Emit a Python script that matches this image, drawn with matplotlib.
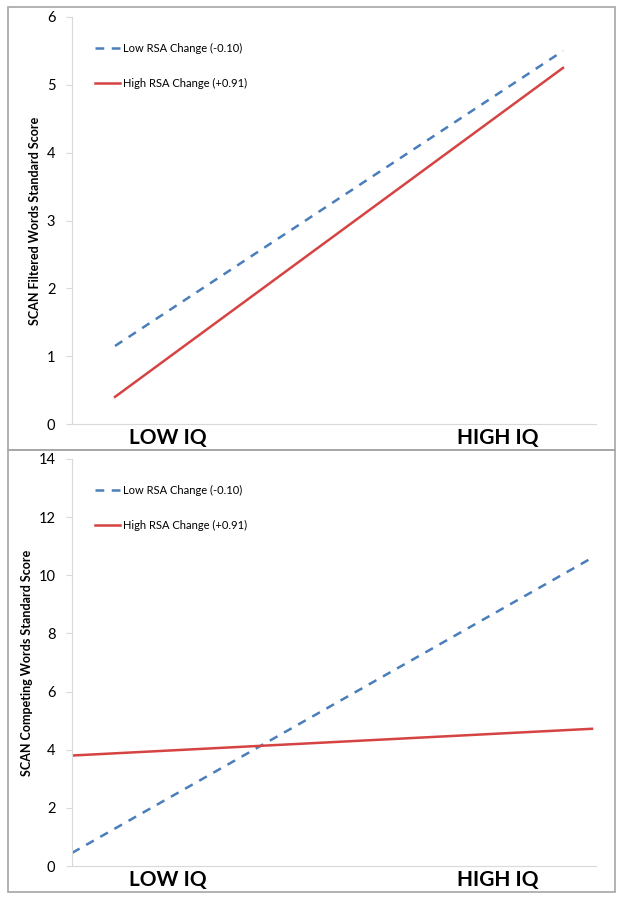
import matplotlib
matplotlib.use("Agg")
import matplotlib.pyplot as plt
from matplotlib.patches import Rectangle

# Font close to Calibri
plt.rcParams['font.family'] = ['Lato', 'DejaVu Sans']

# Data
categories = ['LOW IQ', 'HIGH IQ']
series_names = ['Low RSA Change (-0.10)', 'High RSA Change (+0.91)']
filtered_low = [1.15, 5.5]
filtered_high = [0.4, 5.25]
competing_low = [0.45, 10.6]
competing_high = [3.8, 4.72]
filtered_ticks = [0, 1, 2, 3, 4, 5, 6]
competing_ticks = [0, 2, 4, 6, 8, 10, 12, 14]

blue = '#4a7ebb'
red = '#d64343'
grey = '#d9d9d9'

W, H = 624, 901
fig = plt.figure(figsize=(W / 100, H / 100), dpi=100)

# panel borders
for y0, y1 in [(7, 450), (450, 892)]:
    fig.patches.append(Rectangle((8 / W, 1 - y1 / H), (615 - 8) / W, (y1 - y0) / H,
                                 transform=fig.transFigure, fill=False,
                                 edgecolor='#a6a6a6', lw=1.2))


def panel(rect, low, high, ticks, ymax, xlim, ylabel):
    ax = fig.add_axes(rect)
    x = [0, 1]
    ax.plot(x, low, color=blue, lw=1.8, ls=(0, (3.5, 3)), label=series_names[0])
    ax.plot(x, high, color=red, lw=1.8, label=series_names[1])
    ax.set_xlim(*xlim)
    ax.set_ylim(0, ymax)
    ax.set_yticks(ticks)
    ax.tick_params(axis='y', length=4, color=grey, labelsize=10.5, pad=8)
    ax.set_xticks([])
    for s in ['top', 'right']:
        ax.spines[s].set_visible(False)
    for s in ['left', 'bottom']:
        ax.spines[s].set_color(grey)
    ax.set_ylabel(ylabel, fontsize=9, fontweight='bold', labelpad=4)
    # category labels placed under the axis
    for cx, cat in zip([168, 498], categories):
        ax.text((cx - 72) / (596 - 72), -0.035, cat, transform=ax.transAxes,
                ha='center', va='center', fontsize=15, fontweight='bold')
    ax.legend(loc='upper left', bbox_to_anchor=(0.025, 0.962), frameon=False,
              fontsize=8, handlelength=2.2, labelspacing=2.2, handletextpad=0.3)
    return ax


# top: lines from px 115 to 563 on an axis spanning 72..596
panel([72 / W, 1 - 424 / H, (596 - 72) / W, (424 - 17) / H],
      filtered_low, filtered_high, filtered_ticks, 6,
      (-(115 - 72) / 448, 1 + (596 - 563) / 448),
      'SCAN Filtered Words Standard Score')

# bottom: lines from px 72 to 592
panel([72 / W, 1 - 866 / H, (596 - 72) / W, (866 - 459) / H],
      competing_low, competing_high, competing_ticks, 14,
      (0, 1 + (596 - 592) / 520),
      'SCAN Competing Words Standard Score')

fig.savefig('out.png', dpi=100)
